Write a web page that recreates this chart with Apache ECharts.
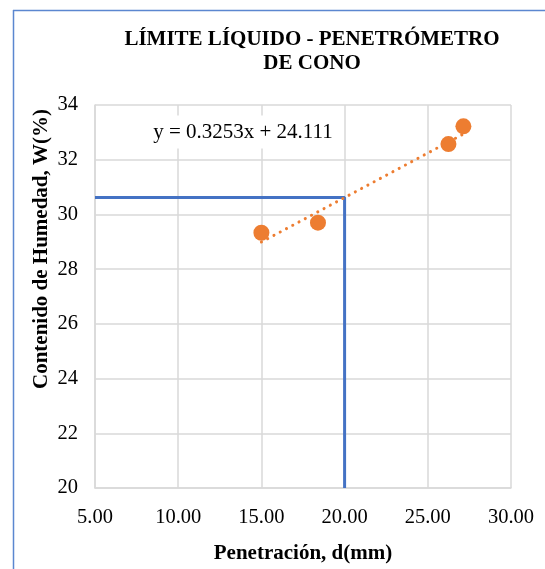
<!DOCTYPE html>
<html>
<head>
<meta charset="utf-8">
<script src="https://cdn.jsdelivr.net/npm/echarts@6/dist/echarts.min.js"></script>
<style>
html,body{margin:0;padding:0;background:#fff;}
#chart{width:545px;height:569px;}
</style>
</head>
<body>
<div id="chart"></div>
<script>
// Data
var penetration = [15.0, 18.4, 26.24, 27.14];
var moisture = [29.33, 29.70, 32.57, 33.22];
var trendSlope = 0.3253;
var trendIntercept = 24.111;
var targetPenetration = 20;
var xTicks = [5, 10, 15, 20, 25, 30];
var yTicks = [20, 22, 24, 26, 28, 30, 32, 34];

var titleText = 'LÍMITE LÍQUIDO - PENETRÓMETRO\nDE CONO';
var xName = 'Penetración, d(mm)';
var yName = 'Contenido de Humedad, W(%)';
var eqText = 'y = 0.3253x + 24.111';

var xMinData = Math.min.apply(null, penetration);
var xMaxData = Math.max.apply(null, penetration);
var trendData = [
  [xMinData, trendSlope * xMinData + trendIntercept],
  [xMaxData, trendSlope * xMaxData + trendIntercept]
];
var liquidLimit = trendSlope * targetPenetration + trendIntercept;
var guideData = [
  [xTicks[0], liquidLimit],
  [targetPenetration, liquidLimit],
  [targetPenetration, yTicks[0]]
];
var points = penetration.map(function (x, i) { return [x, moisture[i]]; });

var serif = 'Liberation Serif, Times New Roman, serif';
var chart = echarts.init(document.getElementById('chart'));
chart.setOption({
  backgroundColor: '#fff',
  animation: false,
  title: {
    text: titleText,
    left: 307,
    top: 23,
    textAlign: 'center',
    textStyle: {fontFamily: serif, fontWeight: 'bold', fontSize: 21, color: '#000', lineHeight: 24}
  },
  grid: {left: 95, right: 34, top: 105, bottom: 81},
  xAxis: {
    type: 'value', min: xTicks[0], max: xTicks[xTicks.length - 1], interval: 5,
    axisLine: {show: true, lineStyle: {color: '#d9d9d9', width: 1.5}},
    axisTick: {show: false},
    splitLine: {show: true, lineStyle: {color: '#d9d9d9', width: 1.5}},
    axisLabel: {formatter: function (v) { return v.toFixed(2); }, fontFamily: serif, fontSize: 20.5, color: '#000', margin: 19},
    name: xName, nameLocation: 'middle', nameGap: 55,
    nameTextStyle: {fontFamily: serif, fontWeight: 'bold', fontSize: 21, color: '#000'}
  },
  yAxis: {
    type: 'value', min: yTicks[0], max: yTicks[yTicks.length - 1], interval: 2,
    axisLine: {show: true, lineStyle: {color: '#d9d9d9', width: 1.5}},
    axisTick: {show: false},
    splitLine: {show: true, lineStyle: {color: '#d9d9d9', width: 1.5}},
    axisLabel: {fontFamily: serif, fontSize: 20.5, color: '#000', margin: 17}
  },
  graphic: [
    {type: 'line', shape: {x1: 13.5, y1: 10, x2: 13.5, y2: 569}, style: {stroke: '#5b87d0', lineWidth: 1.5}, z: 100},
    {type: 'line', shape: {x1: 13, y1: 10.5, x2: 545, y2: 10.5}, style: {stroke: '#5b87d0', lineWidth: 1.5}, z: 100},
    {type: 'text', x: 42, y: 249, rotation: Math.PI / 2,
      style: {text: yName, fontFamily: serif, fontWeight: 'bold', fontSize: 21, fill: '#000', textAlign: 'center', textVerticalAlign: 'middle'}, z: 100},
    {type: 'text', x: 243, y: 132,
      style: {text: eqText, fontFamily: serif, fontSize: 21, fill: '#000', textAlign: 'center', textVerticalAlign: 'middle',
        backgroundColor: '#fff', padding: [6, 6]}, z: 50}
  ],
  series: [
    {type: 'line', data: guideData, symbol: 'none', z: 2,
      lineStyle: {color: '#4472c4', width: 3}},
    {type: 'line', data: trendData, symbol: 'none', z: 3,
      lineStyle: {color: '#ed7d31', width: 3, type: [0.1, 7], cap: 'round'}},
    {type: 'scatter', data: points, symbolSize: 16, z: 4,
      itemStyle: {color: '#ed7d31', opacity: 1}}
  ]
});
</script>
</body>
</html>
